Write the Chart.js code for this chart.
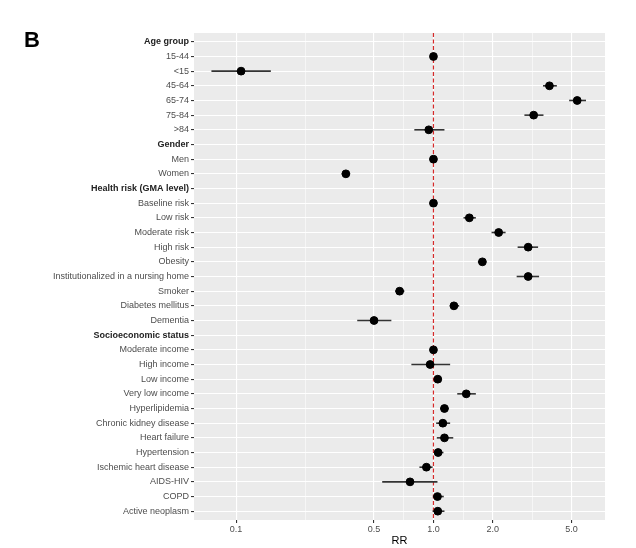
<!DOCTYPE html>
<html>
<head>
    <title>RR forest plot</title>
    <script src="https://cdn.jsdelivr.net/npm/chart.js"></script>
    <style>
        body {
            margin: 0;
            background: #fff;
            font-family: "Liberation Sans", Arial, sans-serif;
        }
        #wrap {
            position: relative;
            width: 636px;
            height: 548px;
        }
        #panelLabel {
            position: absolute;
            left: 24px;
            top: 27px;
            font: bold 22px "Liberation Sans", Arial, sans-serif;
            color: #000;
        }
    </style>
</head>
<body>
<div id="wrap">
    <canvas id="rrChart" width="636" height="548"></canvas>
    <div id="panelLabel">B</div>
</div>
<script>
    // rows top to bottom
    const rowLabels = [
        'Age group', '15-44', '<15', '45-64', '65-74', '75-84', '>84',
        'Gender', 'Men', 'Women',
        'Health risk (GMA level)', 'Baseline risk', 'Low risk', 'Moderate risk', 'High risk',
        'Obesity', 'Institutionalized in a nursing home', 'Smoker', 'Diabetes mellitus', 'Dementia',
        'Socioeconomic status', 'Moderate income', 'High income', 'Low income', 'Very low income',
        'Hyperlipidemia', 'Chronic kidney disease', 'Heart failure', 'Hypertension',
        'Ischemic heart disease', 'AIDS-HIV', 'COPD', 'Active neoplasm'
    ];
    const headerRows = ['Age group', 'Gender', 'Health risk (GMA level)', 'Socioeconomic status'];

    // null = header row, no estimate
    const rr = [
        null, 1.0, 0.106, 3.87, 5.35, 3.22, 0.947,
        null, 1.0, 0.36,
        null, 1.0, 1.52, 2.14, 3.02,
        1.77, 3.02, 0.674, 1.27, 0.50,
        null, 1.0, 0.962, 1.052, 1.466,
        1.137, 1.116, 1.137, 1.056,
        0.921, 0.761, 1.048, 1.052
    ];
    const ciLow = [
        null, 1.0, 0.075, 3.59, 4.87, 2.89, 0.80,
        null, 1.0, 0.343,
        null, 1.0, 1.42, 1.97, 2.67,
        1.68, 2.64, 0.641, 1.21, 0.411,
        null, 1.0, 0.773, 1.01, 1.32,
        1.08, 1.032, 1.04, 1.01,
        0.849, 0.55, 0.993, 0.99
    ];
    const ciHigh = [
        null, 1.0, 0.150, 4.22, 5.93, 3.61, 1.137,
        null, 1.0, 0.378,
        null, 1.0, 1.64, 2.32, 3.39,
        1.85, 3.43, 0.712, 1.35, 0.612,
        null, 1.0, 1.215, 1.094, 1.64,
        1.196, 1.215, 1.26, 1.124,
        0.99, 1.048, 1.128, 1.137
    ];

    const majorTicks = [0.1, 0.5, 1.0, 2.0, 5.0];
    const tickLabels = ['0.1', '0.5', '1.0', '2.0', '5.0'];
    // minor grid lines sit halfway between majors on the log scale
    const minorTicks = [];
    for (let i = 0; i < majorTicks.length - 1; i++) {
        minorTicks.push(Math.sqrt(majorTicks[i] * majorTicks[i + 1]));
    }

    const points = [];
    rr.forEach((v, i) => {
        if (v !== null) points.push({x: v, y: i, lo: ciLow[i], hi: ciHigh[i]});
    });

    const isMajor = c => !c.tick || majorTicks.some(m => Math.abs(m - c.tick.value) < 1e-9);
    const isHeader = c => c.tick && headerRows.includes(rowLabels[c.tick.value]);

    const panelBackground = {
        id: 'panelBackground',
        beforeDraw(chart) {
            const a = chart.chartArea;
            const c = chart.ctx;
            c.save();
            c.fillStyle = '#ebebeb';
            c.fillRect(a.left, a.top, a.right - a.left, a.bottom - a.top);
            c.restore();
        }
    };

    const errorBars = {
        id: 'errorBars',
        beforeDatasetsDraw(chart) {
            const c = chart.ctx;
            const xs = chart.scales.x;
            const ys = chart.scales.y;
            c.save();
            // reference line at RR = 1
            const x1 = xs.getPixelForValue(1);
            c.strokeStyle = '#d62a2a';
            c.lineWidth = 1.2;
            c.setLineDash([4, 2.5]);
            c.beginPath();
            c.moveTo(x1, chart.chartArea.top);
            c.lineTo(x1, chart.chartArea.bottom);
            c.stroke();
            c.setLineDash([]);
            c.strokeStyle = '#333333';
            c.lineWidth = 1.6;
            points.forEach(p => {
                const y = ys.getPixelForValue(p.y);
                c.beginPath();
                c.moveTo(xs.getPixelForValue(p.lo), y);
                c.lineTo(xs.getPixelForValue(p.hi), y);
                c.stroke();
            });
            c.restore();
        }
    };

    const ctx = document.getElementById('rrChart').getContext('2d');
    new Chart(ctx, {
        type: 'scatter',
        data: {
            datasets: [{
                data: points,
                backgroundColor: '#000',
                borderColor: '#000',
                pointRadius: 3.9,
                pointHoverRadius: 3.9
            }]
        },
        plugins: [panelBackground, errorBars],
        options: {
            responsive: false,
            animation: false,
            events: [],
            layout: {
                padding: {left: 0, right: 31, top: 33, bottom: 0}
            },
            plugins: {
                legend: {display: false},
                tooltip: {enabled: false}
            },
            scales: {
                x: {
                    type: 'logarithmic',
                    min: 0.0612,
                    max: 7.4,
                    afterBuildTicks(scale) {
                        scale.ticks = majorTicks.concat(minorTicks).map(v => ({value: v}));
                    },
                    afterFit(scale) {
                        scale.height = 28;
                    },
                    border: {display: false},
                    grid: {
                        color: '#ffffff',
                        lineWidth: c => isMajor(c) ? 1.1 : 0.55,
                        tickColor: c => isMajor(c) ? '#333333' : 'rgba(0,0,0,0)',
                        tickLength: 3
                    },
                    ticks: {
                        autoSkip: false,
                        maxRotation: 0,
                        padding: 1,
                        color: '#4d4d4d',
                        font: {family: '"Liberation Sans", Arial, sans-serif', size: 9},
                        callback(value) {
                            const i = majorTicks.findIndex(m => Math.abs(m - value) < 1e-9);
                            return i >= 0 ? tickLabels[i] : '';
                        }
                    },
                    title: {
                        display: true,
                        text: 'RR',
                        color: '#000',
                        padding: {top: 2, bottom: 0},
                        font: {family: '"Liberation Sans", Arial, sans-serif', size: 11}
                    }
                },
                y: {
                    type: 'linear',
                    reverse: true,
                    min: -0.6,
                    max: rowLabels.length - 1 + 0.6,
                    afterBuildTicks(scale) {
                        scale.ticks = rowLabels.map((_, i) => ({value: i}));
                    },
                    afterFit(scale) {
                        scale.width = 194;
                    },
                    border: {display: false},
                    grid: {
                        color: '#ffffff',
                        lineWidth: 1.1,
                        tickColor: '#333333',
                        tickLength: 3
                    },
                    ticks: {
                        autoSkip: false,
                        padding: 2,
                        color: c => isHeader(c) ? '#222222' : '#4d4d4d',
                        font: c => ({
                            family: '"Liberation Sans", Arial, sans-serif',
                            size: 9,
                            weight: isHeader(c) ? 'bold' : 'normal'
                        }),
                        callback(value) {
                            return rowLabels[value];
                        }
                    }
                }
            }
        }
    });
</script>
</body>
</html>
